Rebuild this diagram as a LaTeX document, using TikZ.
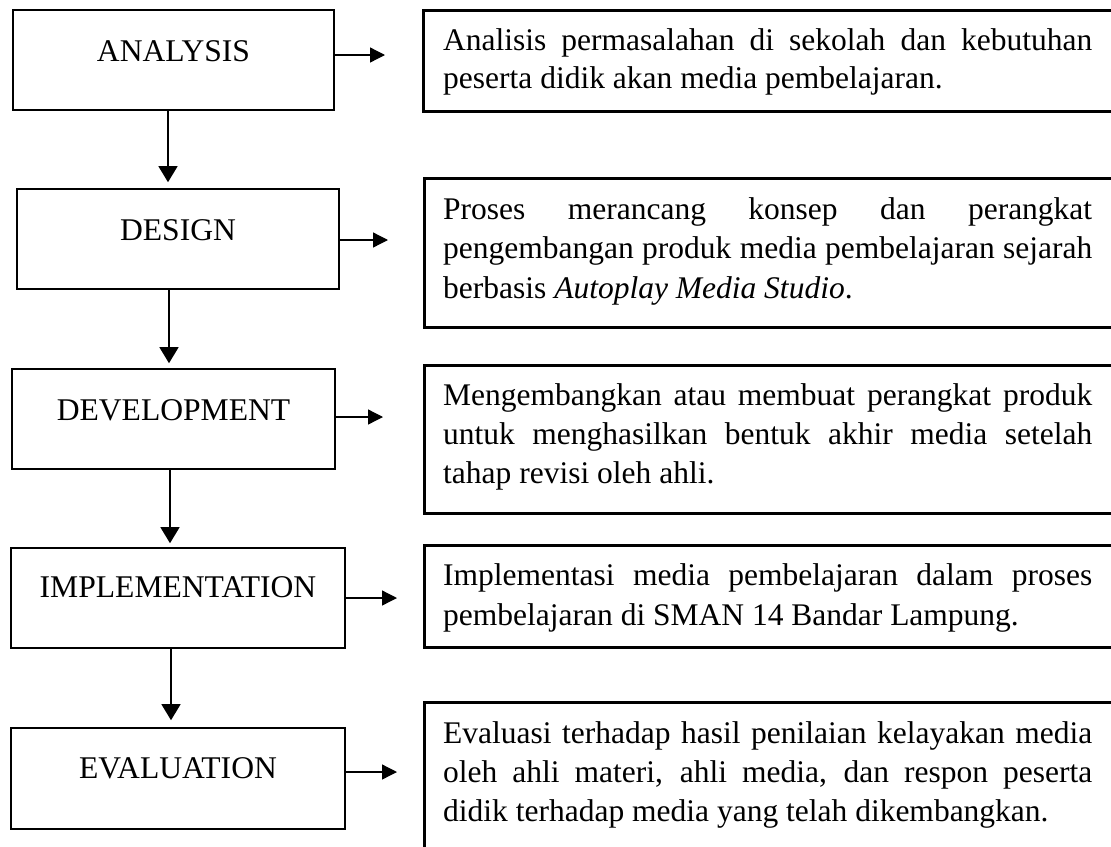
\documentclass[tikz,border=0pt]{standalone}
\usepackage{fontspec}
\setmainfont{Liberation Serif}
\usetikzlibrary{arrows.meta}
\newcommand\jline[1]{\makebox[649pt][s]{#1}}
\begin{document}
\begin{tikzpicture}[x=1pt,y=-1pt,
  lbox/.style={draw, line width=2.6pt, inner sep=0pt, align=center, anchor=base,
    font=\fontsize{31.6}{39}\selectfont},
  rbox/.style={draw, line width=2.6pt, inner sep=0pt, anchor=north west, minimum width=800pt},
  rtext/.style={inner sep=0pt, anchor=base west, font=\fontsize{31.5}{39}\selectfont},
  harr/.style={line width=1.3pt, -{Triangle[length=15pt,width=15pt]}},
  varr/.style={line width=1.3pt, -{Triangle[length=16pt,width=19pt]}}]
\path[use as bounding box, clip] (0,0) rectangle (1111,846);
\fill[white] (0,0) rectangle (1111,846);

% left boxes
\node[lbox, text width=321pt, text height=51pt, text depth=49pt] (an) at (173.5,61) {ANALYSIS};
\node[lbox, text width=322pt, text height=51pt, text depth=49pt] (de) at (178,240) {DESIGN};
\node[lbox, text width=323pt, text height=51pt, text depth=49pt] (dv) at (173.5,420) {DEVELOPMENT};
\node[lbox, text width=334pt, text height=49pt, text depth=51pt] (im) at (178,597) {IMPLEMENTATION};
\node[lbox, text width=334pt, text height=50pt, text depth=51pt] (ev) at (178,778) {EVALUATION};

% right boxes
\node[rbox, minimum height=101pt] (r1) at (422,9) {};
\node[rbox, minimum height=149pt] (r2) at (423,177) {};
\node[rbox, minimum height=148pt] (r3) at (423,364) {};
\node[rbox, minimum height=102pt] (r4) at (423,544) {};
\node[rbox, minimum height=200pt] (r5) at (423,701) {};

% right texts
\node[rtext] (t1) at (443,50) {\parbox[t]{649pt}{\fontsize{31.5}{38}\selectfont
  \jline{Analisis permasalahan di sekolah dan kebutuhan}\\
  peserta didik akan media pembelajaran.}};
\node[rtext] (t2) at (443,219) {\parbox[t]{649pt}{\fontsize{31.5}{39.5}\selectfont
  \jline{Proses merancang konsep dan perangkat}\\
  \jline{pengembangan produk media pembelajaran sejarah}\\
  berbasis \textit{Autoplay Media Studio}.}};
\node[rtext] (t3) at (443,405) {\parbox[t]{649pt}{\fontsize{31.5}{39}\selectfont
  \jline{Mengembangkan atau membuat perangkat produk}\\
  \jline{untuk menghasilkan bentuk akhir media setelah}\\
  tahap revisi oleh ahli.}};
\node[rtext] (t4) at (443,585) {\parbox[t]{649pt}{\fontsize{31.5}{40}\selectfont
  \jline{Implementasi media pembelajaran dalam proses}\\
  pembelajaran di SMAN 14 Bandar Lampung.}};
\node[rtext] (t5) at (443,743) {\parbox[t]{649pt}{\fontsize{31.5}{39}\selectfont
  \jline{Evaluasi terhadap hasil penilaian kelayakan media}\\
  \jline{oleh ahli materi, ahli media, dan respon peserta}\\
  didik terhadap media yang telah dikembangkan.}};

% horizontal arrows
\coordinate (e1) at (385,55);
\coordinate (e2) at (388,240);
\coordinate (e3) at (383,417);
\coordinate (e4) at (397,598);
\coordinate (e5) at (397,772);
\draw[harr] (an.east |- e1) -- (e1);
\draw[harr] (de.east |- e2) -- (e2);
\draw[harr] (dv.east |- e3) -- (e3);
\draw[harr] (im.east |- e4) -- (e4);
\draw[harr] (ev.east |- e5) -- (e5);

% vertical arrows
\coordinate (v1) at (168,0);
\coordinate (v2) at (169,0);
\coordinate (v3) at (170,0);
\coordinate (v4) at (171,0);
\draw[varr, shorten >=5.5pt] (an.south -| v1) -- (de.north -| v1);
\draw[varr, shorten >=4.5pt] (de.south -| v2) -- (dv.north -| v2);
\draw[varr, shorten >=3.5pt] (dv.south -| v3) -- (im.north -| v3);
\draw[varr, shorten >=6.5pt] (im.south -| v4) -- (ev.north -| v4);
\end{tikzpicture}
\end{document}
